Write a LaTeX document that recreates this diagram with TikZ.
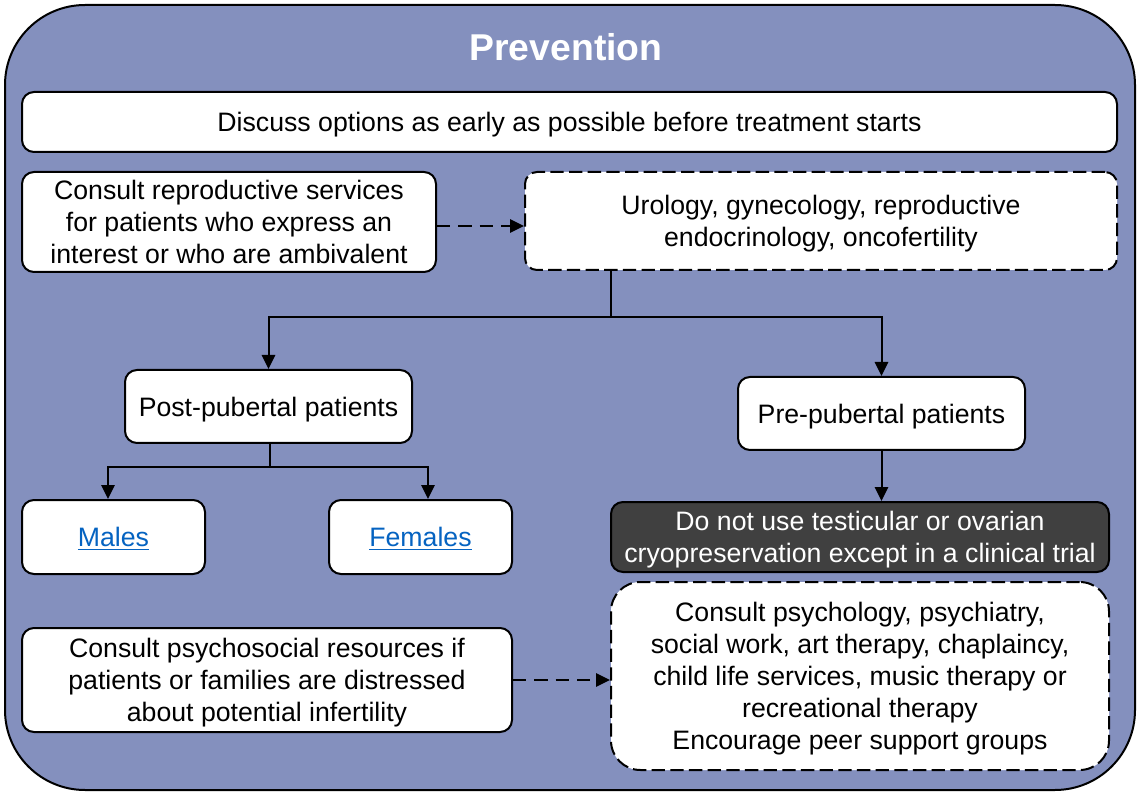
\documentclass[tikz,border=0pt]{standalone}
\usepackage{fontspec}
\setmainfont{Liberation Sans}
\usetikzlibrary{arrows.meta,calc}
\definecolor{bgblue}{RGB}{132,144,190}
\definecolor{darkbox}{RGB}{64,64,64}
\definecolor{linkblue}{RGB}{5,99,193}
\newcommand{\fs}{\fontsize{20}{24}\selectfont}
\tikzset{
  box/.style={draw, line width=1.5pt, fill=white, rounded corners=9pt, align=center, inner sep=0pt, font=\fs, text depth=0pt},
  dbox/.style={box, dash pattern=on 10pt off 4pt},
  arr/.style={line width=1.5pt, -{Triangle[length=10.5pt,width=10pt]}},
  darr/.style={arr, dash pattern=on 10pt off 6pt},
}
\begin{document}
\begin{tikzpicture}[x=0.75pt,y=-0.75pt]
\useasboundingbox (0,0) rectangle (1139,798);
\draw[line width=1.5pt, fill=bgblue, rounded corners=60pt] (5,5) rectangle (1135,790);
\node[font=\fontsize{28}{32}\selectfont\bfseries, text=white] (title) at (566,47) {Prevention};
\node[box, minimum width=1095*0.75pt, minimum height=60*0.75pt] (discuss) at (569.5,122) {Discuss options as early as possible before treatment starts};
\node[box, minimum width=414*0.75pt, minimum height=100*0.75pt] (consult) at (229,222) {Consult reproductive services\\for patients who express an\\interest or who are ambivalent};
\node[dbox, minimum width=592*0.75pt, minimum height=98*0.75pt] (uro) at (821,221) {Urology, gynecology, reproductive\\endocrinology, oncofertility};
\node[box, minimum width=287*0.75pt, minimum height=73*0.75pt] (post) at (268.5,406.5) {Post-pubertal patients};
\node[box, minimum width=287*0.75pt, minimum height=73*0.75pt] (pre) at (881.5,413.5) {Pre-pubertal patients};
\node[box, minimum width=183*0.75pt, minimum height=74*0.75pt, text=linkblue] (males) at (113.5,537) {\underline{Males}};
\node[box, minimum width=183*0.75pt, minimum height=74*0.75pt, text=linkblue] (females) at (420.5,537) {\underline{Females}};
\node[box, fill=darkbox, text=white, minimum width=498*0.75pt, minimum height=70*0.75pt] (donot) at (860,537) {Do not use testicular or ovarian\\cryopreservation except in a clinical trial};
\node[dbox, minimum width=498*0.75pt, minimum height=188*0.75pt, rounded corners=22pt] (psych) at (860,676) {Consult psychology, psychiatry,\\social work, art therapy, chaplaincy,\\child life services, music therapy or\\recreational therapy\\Encourage peer support groups};
\node[box, minimum width=490*0.75pt, minimum height=104*0.75pt] (psysoc) at (267,680) {Consult psychosocial resources if\\patients or families are distressed\\about potential infertility};
% connectors
\draw[darr] ([yshift=-4*0.75pt]consult.east) -- ([yshift=-4*0.75pt]consult.east -| uro.west);
\coordinate (j1) at (611,317);
\draw[line width=1.5pt] (uro.south -| j1) -- (j1);
\draw[arr] (j1) -| (post.north);
\draw[arr] (j1) -| (pre.north);
\coordinate (j2) at (270,467);
\draw[line width=1.5pt] (post.south -| j2) -- (j2);
\draw[arr] (j2) -| ([xshift=-5.5*0.75pt]males.north);
\draw[arr] (j2) -| ([xshift=7.5*0.75pt]females.north);
\draw[arr] (pre.south) -- (pre.south |- donot.north);
\draw[darr] (psysoc.east) -- (psych.west |- psysoc.east);
\end{tikzpicture}
\end{document}
